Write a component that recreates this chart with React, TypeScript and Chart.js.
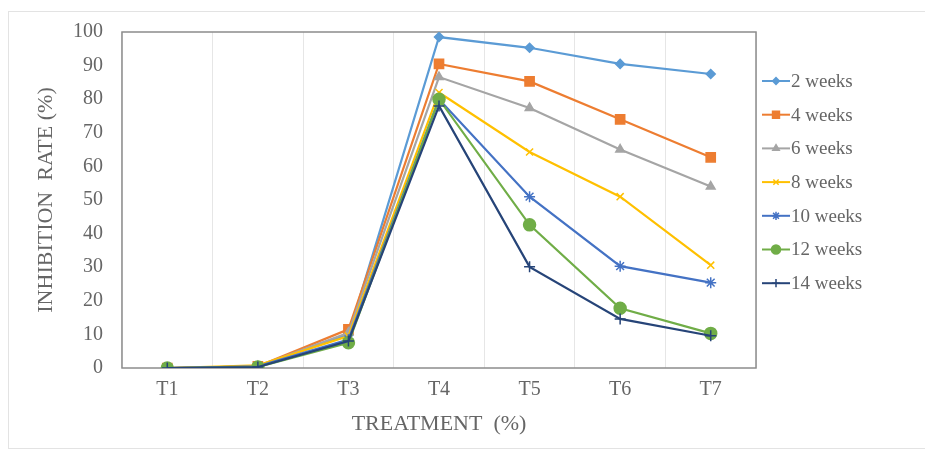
import React, { useEffect, useRef } from "react";
import { Chart, registerables } from "chart.js";
import { drawPoint } from "chart.js/helpers";

Chart.register(...registerables);

const categories = ["T1", "T2", "T3", "T4", "T5", "T6", "T7"];
const yTicks = [0, 10, 20, 30, 40, 50, 60, 70, 80, 90, 100];

const seriesNames = ["2 weeks", "4 weeks", "6 weeks", "8 weeks", "10 weeks", "12 weeks", "14 weeks"];
const weeks2 = [0, 0.5, 10, 98.5, 95.3, 90.5, 87.5];
const weeks4 = [0, 0.5, 11.5, 90.5, 85.3, 74, 62.7];
const weeks6 = [0, 0.5, 10.5, 86.6, 77.4, 65, 54];
const weeks8 = [0, 0.8, 9.5, 82, 64.3, 51, 30.6];
const weeks10 = [0, 0.5, 8.5, 80, 51, 30.3, 25.4];
const weeks12 = [0, 0.3, 7.5, 80, 42.6, 17.8, 10.3];
const weeks14 = [0, 0.3, 8, 78, 30.1, 14.6, 9.6];

const seriesValues = [weeks2, weeks4, weeks6, weeks8, weeks10, weeks12, weeks14];
const seriesColors = ["#5B9BD5", "#ED7D31", "#A5A5A5", "#FFC000", "#4472C4", "#70AD47", "#264478"];
const seriesMarkers = ["rectRot", "rect", "triangle", "crossRot", "star", "circle", "cross"];
const seriesRadius = [4.5, 6.5, 5, 5, 5.5, 6, 5.5];

const FONT = "'Liberation Serif', 'Times New Roman', serif";
const TEXT = "#666666";

const framePlugin = {
  id: "frame",
  beforeDatasetsDraw(chart: any) {
    const { ctx, chartArea } = chart;
    ctx.save();
    ctx.strokeStyle = "#8c8c8c";
    ctx.lineWidth = 1.5;
    ctx.strokeRect(chartArea.left, chartArea.top, chartArea.right - chartArea.left, chartArea.bottom - chartArea.top);
    ctx.restore();
  },
};

const legendPlugin = {
  id: "sideLegend",
  afterDraw(chart: any) {
    const { ctx, chartArea } = chart;
    const x0 = chartArea.right + 6;
    const yStart = 81;
    const step = 33.7;
    ctx.save();
    chart.data.datasets.forEach((ds: any, i: number) => {
      const y = yStart + i * step;
      ctx.strokeStyle = ds.borderColor;
      ctx.lineWidth = 2;
      ctx.beginPath();
      ctx.moveTo(x0, y);
      ctx.lineTo(x0 + 28, y);
      ctx.stroke();
      ctx.fillStyle = ds.backgroundColor;
      ctx.strokeStyle = ds.borderColor;
      ctx.lineWidth = 1.5;
      drawPoint(ctx, { pointStyle: ds.pointStyle, radius: ds.pointRadius * 0.75, rotation: 0, borderWidth: 1.5 }, x0 + 14, y);
      ctx.fillStyle = TEXT;
      ctx.font = `19px ${FONT}`;
      ctx.textBaseline = "middle";
      ctx.textAlign = "left";
      ctx.fillText(ds.label, x0 + 29, y + 1);
    });
    ctx.restore();
  },
};

export default function App() {
  const ref = useRef<HTMLCanvasElement | null>(null);

  useEffect(() => {
    if (!ref.current) return;
    const chart = new Chart(ref.current, {
      type: "line",
      data: {
        labels: categories,
        datasets: seriesNames.map((name, i) => ({
          label: name,
          data: seriesValues[i],
          order: seriesNames.length - i,
          borderColor: seriesColors[i],
          backgroundColor: seriesColors[i],
          pointBackgroundColor: seriesColors[i],
          pointBorderColor: seriesColors[i],
          pointStyle: seriesMarkers[i] as any,
          pointRadius: seriesRadius[i],
          pointBorderWidth: 1.5,
          borderWidth: 2.2,
          tension: 0,
        })),
      },
      options: {
        responsive: false,
        animation: false,
        layout: { padding: { left: 33, top: 32, right: 169, bottom: 15 } },
        plugins: { legend: { display: false }, tooltip: { enabled: false } },
        scales: {
          x: {
            offset: true,
            grid: { display: true, offset: true, color: "#e6e6e6", lineWidth: 1, drawTicks: false },
            border: { display: false },
            ticks: { color: TEXT, font: { family: FONT, size: 20 }, padding: 10 },
            title: {
              display: true,
              text: "TREATMENT  (%)",
              color: TEXT,
              font: { family: FONT, size: 22 },
              padding: { top: 0, bottom: 1 },
            },
            afterFit: (s: any) => {
              s.height = 70;
            },
          },
          y: {
            min: 0,
            max: 100,
            afterBuildTicks: (s: any) => {
              s.ticks = yTicks.map((v) => ({ value: v }));
            },
            grid: { display: false, drawTicks: false },
            border: { display: false },
            ticks: { color: TEXT, font: { family: FONT, size: 20 }, padding: 19 },
            title: {
              display: true,
              text: "INHIBITION  RATE (%)",
              color: TEXT,
              font: { family: FONT, size: 22 },
              padding: { top: 0, bottom: 0 },
            },
            afterFit: (s: any) => {
              s.width = 89;
            },
          },
        },
      },
      plugins: [framePlugin, legendPlugin],
    });
    return () => chart.destroy();
  }, []);

  return (
    <div style={{ position: "absolute", left: 0, top: 0, width: 925, height: 453, overflow: "hidden", background: "#fff" }}>
      <div
        style={{
          position: "absolute",
          left: 8,
          top: 11,
          width: 940,
          height: 436,
          border: "1px solid #e3e3e3",
        }}
      />
      <canvas ref={ref} width={925} height={453} style={{ position: "absolute", left: 0, top: 0, display: "block" }} />
    </div>
  );
}
